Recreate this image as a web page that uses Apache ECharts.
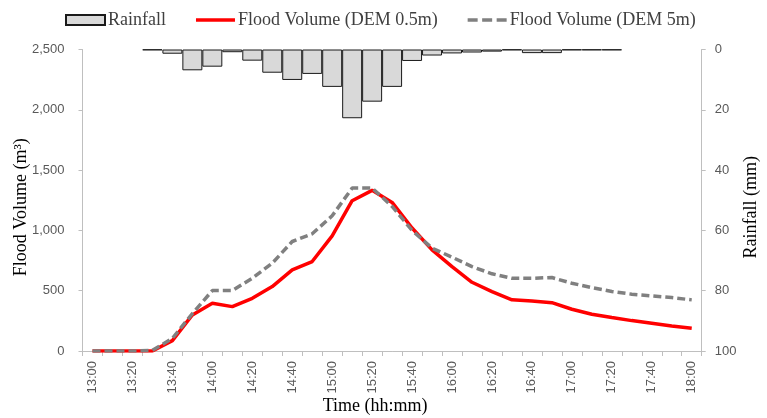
<!DOCTYPE html>
<html>
<head>
<meta charset="utf-8">
<script src="https://cdn.jsdelivr.net/npm/echarts@6/dist/echarts.min.js"></script>
<style>
  html, body { margin: 0; padding: 0; background: #fff; }
  #chart { width: 767px; height: 418px; }
</style>
</head>
<body>
<div id="chart"></div>
<script>
// time steps, 10 min
var times = ['13:00', '13:10', '13:20', '13:30', '13:40', '13:50', '14:00', '14:10', '14:20', '14:30',
  '14:40', '14:50', '15:00', '15:10', '15:20', '15:30', '15:40', '15:50', '16:00', '16:10',
  '16:20', '16:30', '16:40', '16:50', '17:00', '17:10', '17:20', '17:30', '17:40', '17:50', '18:00'];
// rainfall (mm), right axis, hanging from top
var rainfall = ['-', '-', '-', 0.2, 1.4, 6.9, 5.7, 0.9, 3.7, 7.7,
  10.1, 8.1, 12.4, 22.8, 17.3, 12.4, 3.8, 2.0, 1.3, 1.0,
  0.7, 0.2, 1.2, 1.2, 0.2, 0.2, 0.2, '-', '-', '-', '-'];
// flood volume (m3)
var floodDem05 = [0, 0, 0, 0, 86, 299, 396, 368, 437, 534,
  673, 742, 955, 1246, 1332, 1232, 1020, 839, 700, 570,
  493, 424, 415, 401, 346, 305, 277, 252, 230, 208, 188];
var floodDem5 = [0, 0, 0, 5, 105, 310, 501, 501, 603, 728,
  908, 972, 1121, 1351, 1351, 1199, 1000, 853, 778, 700,
  640, 603, 603, 609, 562, 526, 493, 471, 457, 443, 424];

var serif = 'Liberation Serif, Times New Roman, serif';
var sans = 'Liberation Sans, Arial, sans-serif';

var chart = echarts.init(document.getElementById('chart'));
var option = {
  animation: false,
  legend: {
    left: 60,
    top: 6,
    itemWidth: 39,
    itemHeight: 10,
    itemGap: 30,
    textStyle: { fontFamily: serif, fontSize: 18, color: '#404040', padding: [0, 0, 0, -2] },
    data: [
      { name: 'Rainfall', icon: 'rect' },
      { name: 'Flood Volume (DEM 0.5m)', icon: 'path://M0,0h39v3.5h-39z' },
      { name: 'Flood Volume (DEM 5m)', icon: 'path://M0,0h10v3.5h-10z M14.5,0h10v3.5h-10z M29,0h10v3.5h-10z' }
    ]
  },
  grid: {
    left: 82.5,
    right: 65.3,
    top: 49.5,
    bottom: 67,
    outerBoundsMode: 'none',
    containLabel: false
  },
  xAxis: {
    type: 'category',
    data: times,
    boundaryGap: true,
    name: 'Time (hh:mm)',
    nameLocation: 'middle',
    nameGap: 46,
    nameMoveOverlap: false,
    nameTextStyle: { fontFamily: serif, fontSize: 18, color: '#000', padding: [0, 34, 0, 0] },
    axisLine: { lineStyle: { color: '#bfbfbf', width: 1 } },
    axisTick: { show: true, interval: 0, length: 5, lineStyle: { color: '#bfbfbf' } },
    axisLabel: { interval: 1, rotate: 90, margin: 10, fontFamily: sans, fontSize: 13, color: '#595959' },
    splitLine: { show: false }
  },
  yAxis: [{
    type: 'value',
    min: 0,
    max: 2500,
    interval: 500,
    name: 'Flood Volume (m³)',
    nameLocation: 'middle',
    nameRotate: 90,
    nameGap: 52,
    nameMoveOverlap: false,
    nameTextStyle: { fontFamily: serif, fontSize: 18, color: '#000', padding: [0, 14, 0, 0] },
    axisLine: { show: true, lineStyle: { color: '#bfbfbf', width: 1 } },
    axisTick: { show: true, length: 4, lineStyle: { color: '#bfbfbf' } },
    axisLabel: {
      margin: 18, fontFamily: sans, fontSize: 13, color: '#595959',
      formatter: function (v) { return v.toLocaleString('en-US'); }
    },
    splitLine: { show: false }
  }, {
    type: 'value',
    position: 'right',
    inverse: true,
    min: 0,
    max: 100,
    interval: 20,
    name: 'Rainfall (mm)',
    nameLocation: 'middle',
    nameRotate: 90,
    nameGap: 41,
    nameMoveOverlap: false,
    nameTextStyle: { fontFamily: serif, fontSize: 18, color: '#000', padding: [0, 14, 0, 0] },
    axisLine: { show: true, lineStyle: { color: '#bfbfbf', width: 1 } },
    axisTick: { show: true, length: 4, lineStyle: { color: '#bfbfbf' } },
    axisLabel: { margin: 13, fontFamily: sans, fontSize: 13, color: '#595959' },
    splitLine: { show: false }
  }],
  series: [{
    name: 'Rainfall',
    type: 'bar',
    yAxisIndex: 1,
    data: rainfall,
    barCategoryGap: 0,
    itemStyle: { color: '#d9d9d9', borderColor: '#1a1a1a', borderWidth: 1 }
  }, {
    name: 'Flood Volume (DEM 0.5m)',
    type: 'line',
    yAxisIndex: 0,
    data: floodDem05,
    symbol: 'none',
    lineStyle: { color: '#ff0000', width: 3.5 },
    itemStyle: { color: '#ff0000' }
  }, {
    name: 'Flood Volume (DEM 5m)',
    type: 'line',
    yAxisIndex: 0,
    data: floodDem5,
    symbol: 'none',
    lineStyle: { color: '#808080', width: 3.5, type: [8, 4] },
    itemStyle: { color: '#808080' }
  }]
};
chart.setOption(option);
</script>
</body>
</html>
